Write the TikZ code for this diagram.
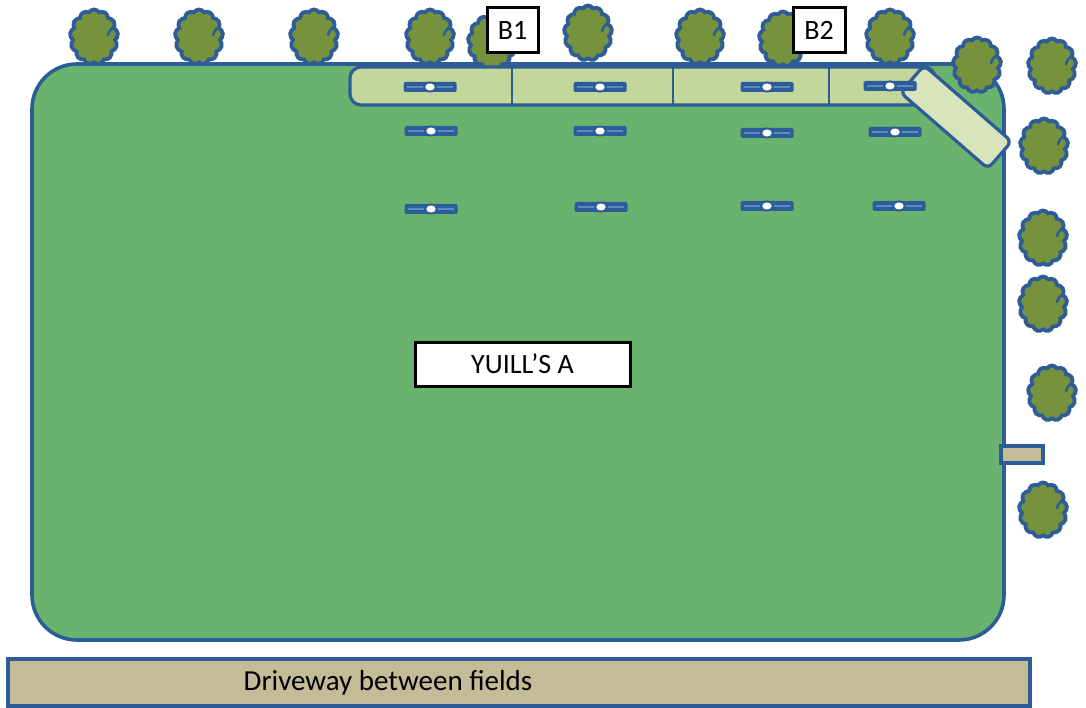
\documentclass[tikz,border=0pt]{standalone}
\usepackage{fontspec}
\setmainfont{Carlito}
\usetikzlibrary{shapes.symbols}
\definecolor{edgeblue}{HTML}{2E5C96}
\definecolor{lightblue}{HTML}{5A8AC8}
\definecolor{grass}{HTML}{69B36E}
\definecolor{strip}{HTML}{C3D69B}
\definecolor{paleplot}{HTML}{D7E4BC}
\definecolor{foliage}{HTML}{76923C}
\definecolor{tan}{HTML}{C4BC96}
\tikzset{
  field/.style={fill=grass, draw=edgeblue, line width=3.6pt, rounded corners=45pt},
  tree/.style={cloud, cloud puffs=13, cloud puff arc=120, cloud ignores aspect,
    minimum width=48pt, minimum height=55pt, inner sep=0pt,
    fill=foliage, draw=edgeblue, line width=3.8pt},
  bed/.style={fill=strip, draw=edgeblue, line width=3.2pt, rounded corners=11pt},
  divider/.style={draw=edgeblue, line width=1.1pt},
  diag/.style={rectangle, fill=paleplot, draw=edgeblue, line width=3.2pt,
    rounded corners=6pt, minimum width=116pt, minimum height=36pt, rotate=-41},
  bar/.style={rectangle, fill=edgeblue, rounded corners=1.5pt,
    minimum width=53pt, minimum height=10pt, inner sep=0pt},
  barline/.style={draw=lightblue, line width=1.4pt},
  hub/.style={fill=white, draw=edgeblue, line width=2pt},
  tag/.style={rectangle, fill=white, draw=black, line width=3pt,
    inner sep=0pt, font=\fontsize{28}{32}\selectfont},
  tanbox/.style={rectangle, fill=tan, draw=edgeblue, line width=3.2pt, inner sep=0pt},
}
\begin{document}
\begin{tikzpicture}[x=1pt,y=-1pt]
\useasboundingbox (0,0) rectangle (1086,708);

% field
\draw[field] (32,64) rectangle (1004,640);

% tree line along the top and the right side
\foreach \n/\x/\y in {t1/94/37, t2/199/37, t3/314/37, t4/430/37, t5/492/42,
    t6/588/33, t7/700/37, t8/783/39, t9/890/37, t10/977/65, t11/1052/66,
    t12/1044/146, t13/1043/238, t14/1043/304, t15/1052/393, t16/1043/510} {
  \node[tree] (\n) at (\x,\y) {};
  \draw[edgeblue, line width=2.6pt, line cap=round]
    ([shift={(14,-2)}]\n.center) to[bend left=20] ([shift={(20,-10)}]\n.center);
}

% raised bed strip with its dividers
\draw[bed] (350,67) rectangle (935,105);
\foreach \x in {512,673,829}
  \draw[divider] (\x,67) -- (\x,105);

% angled bed at the corner
\node[diag] (angled) at (956,117) {};

% sprinklers
\foreach \n/\x/\y in {s11/430/87, s12/600/87, s13/767/87, s14/890/86,
    s21/431/131, s22/600/131, s23/767/133, s24/895/132,
    s31/431/209, s32/601/207, s33/767/206, s34/899/206} {
  \node[bar] (\n) at (\x,\y) {};
  \draw[barline] ([xshift=4pt]\n.west) -- ([xshift=-4pt]\n.east);
  \draw[hub] (\n.center) ellipse (6pt and 4.5pt);
}

% labels
\node[tag, minimum width=51pt, minimum height=45pt] (b1) at (512.5,30.5) {B1};
\node[tag, minimum width=52pt, minimum height=45pt] (b2) at (819,30.5) {B2};
\node[tag, minimum width=215pt, minimum height=44pt] (yuill) at (522.5,364) {YUILL’S A};

% small gate box on the right edge
\node[tanbox, minimum width=42pt, minimum height=17pt] (gate) at (1022,454.5) {};

% driveway
\node[tanbox, minimum width=1022pt, minimum height=47pt] (drive) at (519,682.5) {};
\node[font=\fontsize{29}{33}\selectfont, inner sep=0pt] (drivelabel) at (388,683) {Driveway between fields};
\end{tikzpicture}
\end{document}
